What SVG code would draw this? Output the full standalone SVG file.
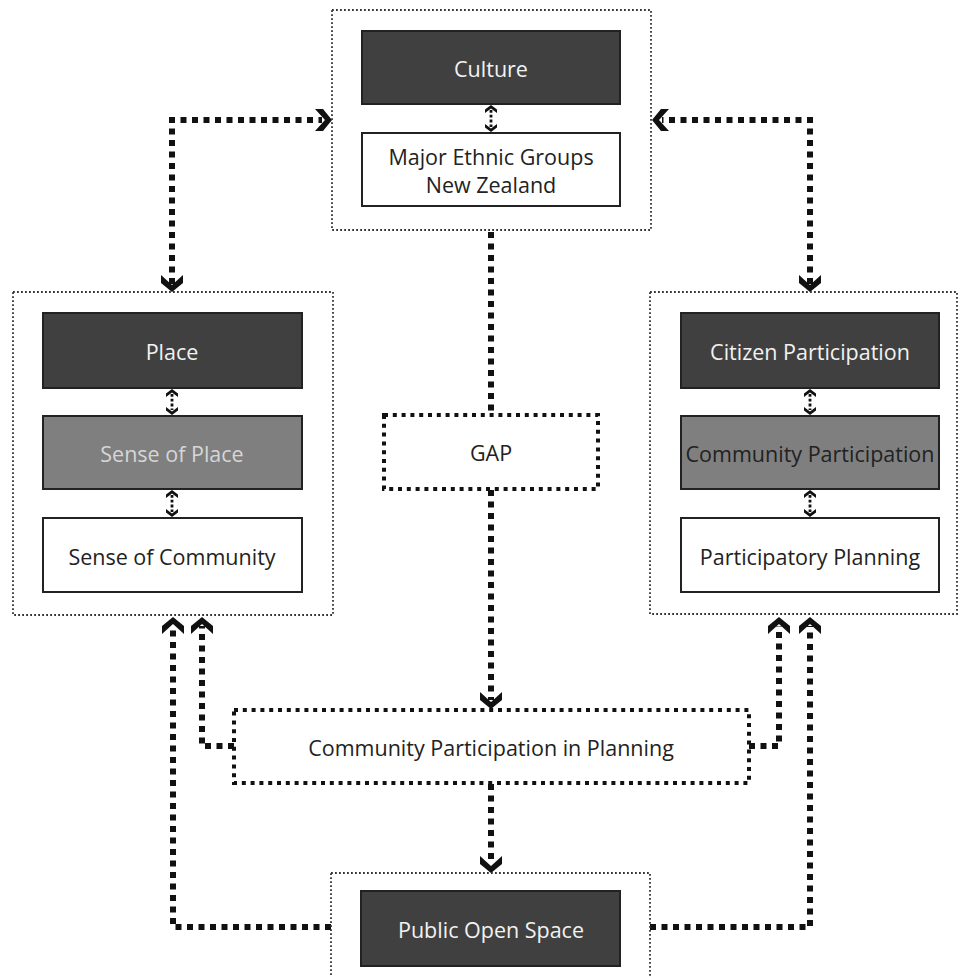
<svg xmlns="http://www.w3.org/2000/svg" xmlns:xlink="http://www.w3.org/1999/xlink" width="959" height="977" viewBox="0 0 959 977">
<style>
.cont{fill:none;stroke:#333;stroke-width:1.8;stroke-dasharray:1.8 2.2}
.thick{fill:#fff;stroke:#111;stroke-width:4;stroke-dasharray:4 4.8}
.dark{fill:#404040;stroke:#222;stroke-width:2}
.mid{fill:#7f7f7f;stroke:#222;stroke-width:2}
.white{fill:#fff;stroke:#222;stroke-width:2}
text{font-family:"Open Sans","Noto Sans","Liberation Sans",sans-serif;font-size:21.5px;text-anchor:middle;dominant-baseline:central}
.tl{fill:#f2f2f2}.tm{fill:#d6d6d6}.td{fill:#222}
.conn{fill:none;stroke:#111;stroke-width:6;stroke-dasharray:6 5.5}
.sconn{fill:none;stroke:#111;stroke-width:2.8;stroke-dasharray:2.8 2}
</style>
<defs>
<path id="ah" d="M-11,-17 L0,-7 L11,-17 L11,-9 L0,0 L-11,-9Z" fill="#111"/>
<path id="sah" d="M-6,-8 L0,-3.5 L6,-8 L6,-4.5 L0,0 L-6,-4.5Z" fill="#111"/>
</defs>

<g id="connectors">
<path class="conn" d="M172,284 V120 H322"/>
<path class="conn" d="M810,284 V120 H662"/>
<path class="conn" d="M491,232 V414"/>
<path class="conn" d="M491,490 V700"/>
<path class="conn" d="M491,784 V864"/>
<path class="conn" d="M331,927 H173 V626"/>
<path class="conn" d="M234,746 H202 V626"/>
<path class="conn" d="M749,746 H779 V626"/>
<path class="conn" d="M650,927 H810 V626"/>
<use xlink:href="#ah" transform="translate(332,120) rotate(-90)"/>
<use xlink:href="#ah" transform="translate(172,292)"/>
<use xlink:href="#ah" transform="translate(652,120) rotate(90)"/>
<use xlink:href="#ah" transform="translate(810,292)"/>
<use xlink:href="#ah" transform="translate(491,709)"/>
<use xlink:href="#ah" transform="translate(491,873)"/>
<use xlink:href="#ah" transform="translate(173,617) rotate(180)"/>
<use xlink:href="#ah" transform="translate(202,617) rotate(180)"/>
<use xlink:href="#ah" transform="translate(779,617) rotate(180)"/>
<use xlink:href="#ah" transform="translate(810,617) rotate(180)"/>
<path class="sconn" d="M491,110 V127"/>
<use xlink:href="#sah" transform="translate(491,105) rotate(180)"/>
<use xlink:href="#sah" transform="translate(491,132)"/>
<path class="sconn" d="M172,394 V410"/>
<use xlink:href="#sah" transform="translate(172,389) rotate(180)"/>
<use xlink:href="#sah" transform="translate(172,415)"/>
<path class="sconn" d="M172,495 V512"/>
<use xlink:href="#sah" transform="translate(172,490) rotate(180)"/>
<use xlink:href="#sah" transform="translate(172,517)"/>
<path class="sconn" d="M810,394 V410"/>
<use xlink:href="#sah" transform="translate(810,389) rotate(180)"/>
<use xlink:href="#sah" transform="translate(810,415)"/>
<path class="sconn" d="M810,495 V512"/>
<use xlink:href="#sah" transform="translate(810,490) rotate(180)"/>
<use xlink:href="#sah" transform="translate(810,517)"/>
</g>

<g id="culture-group">
<rect class="cont" x="332" y="10" width="319" height="220"/>
</g>
<g id="culture">
<rect class="dark" x="362" y="31" width="258" height="73"/>
<text class="tl" x="491" y="68">Culture</text>
</g>
<g id="ethnic">
<rect class="white" x="362" y="133" width="258" height="73"/>
<text class="td" x="491" y="156">Major Ethnic Groups</text>
<text class="td" x="491" y="184">New Zealand</text>
</g>

<g id="place-group">
<rect class="cont" x="13" y="292" width="320" height="323"/>
</g>
<g id="place">
<rect class="dark" x="43" y="313" width="259" height="75"/>
<text class="tl" x="172" y="351">Place</text>
</g>
<g id="sense-of-place">
<rect class="mid" x="43" y="416" width="259" height="73"/>
<text class="tm" x="172" y="453">Sense of Place</text>
</g>
<g id="sense-of-community">
<rect class="white" x="43" y="518" width="259" height="74"/>
<text class="td" x="172" y="556">Sense of Community</text>
</g>

<g id="participation-group">
<rect class="cont" x="650" y="292" width="307" height="322"/>
</g>
<g id="citizen-participation">
<rect class="dark" x="681" y="313" width="258" height="75"/>
<text class="tl" x="810" y="351">Citizen Participation</text>
</g>
<g id="community-participation">
<rect class="mid" x="681" y="416" width="258" height="73"/>
<text class="td" x="810" y="453">Community Participation</text>
</g>
<g id="participatory-planning">
<rect class="white" x="681" y="518" width="258" height="74"/>
<text class="td" x="810" y="556">Participatory Planning</text>
</g>

<g id="gap">
<rect class="thick" x="384" y="415" width="214" height="74"/>
<text class="td" x="491" y="452">GAP</text>
</g>

<g id="cpip">
<rect class="thick" x="234" y="710" width="515" height="73"/>
<text class="td" x="491" y="747">Community Participation in Planning</text>
</g>

<g id="pos-group">
<rect class="cont" x="331" y="873" width="319" height="120"/>
</g>
<g id="public-open-space">
<rect class="dark" x="361" y="891" width="259" height="75"/>
<text class="tl" x="491" y="929">Public Open Space</text>
</g>
</svg>
